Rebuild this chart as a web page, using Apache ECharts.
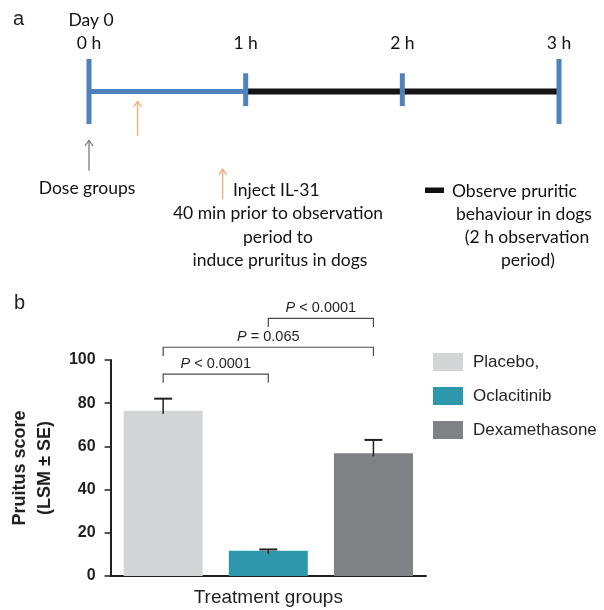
<!DOCTYPE html>
<html><head><meta charset="utf-8">
<script src="https://cdn.jsdelivr.net/npm/echarts@6/dist/echarts.min.js"></script>
<style>html,body{margin:0;padding:0;background:#fff}#c{width:604px;height:610px}</style>
</head><body><div id="c"></div>
<script>
// ---------- Panel a: timeline ----------
const hours = [0, 1, 2, 3];
const hourLabels = ['0 h', '1 h', '2 h', '3 h'];
const tickTop = [1, 0.56, 0.56, 1];
const tickBottom = [-1, -0.45, -0.45, -1];
const segStart = [0, 1];
const segEnd = [1, 3];
const segKind = ['dose', 'observe'];
const arrowHour = [0, 0.31, 0.853];
const arrowTail = [-2.44, -1.36, -3.31];
const arrowHead = [-1.49, -0.29, -2.38];
const arrowKind = ['dose', 'inject', 'inject'];

// ---------- Panel b: bar chart ----------
const categories = ['Placebo,', 'Oclacitinib', 'Dexamethasone'];
const scores = [76.5, 11.7, 56.8];
const se = [5.6, 0.6, 6.2];
const cmpFrom = [0, 0, 1];
const cmpTo = [1, 2, 2];
const cmpLevel = [93.5, 105.9, 119.3];
const cmpDrop = [4, 4, 4];
const cmpText = ['< 0.0001', '= 0.065', '< 0.0001'];

const barColors = ['#d4d5d7', '#2e97ab', '#808184'];
const dark = '#231f20';
const calib = 'Lato';
const arial = 'Liberation Sans';

const chart = echarts.init(document.getElementById('c'));

const option = {
  animation: false,
  backgroundColor: '#fff',
  grid: [
    {left: 89, width: 470, top: 59, height: 65},
    {left: 103, width: 323, top: 360, height: 216}
  ],
  xAxis: [
    {gridIndex: 0, type: 'value', min: 0, max: 3, interval: 1, position: 'top',
     axisLine: {show: false}, axisTick: {show: false}, splitLine: {show: false},
     axisLabel: {margin: 7, fontFamily: calib, fontSize: 17.5, color: '#111',
       formatter: v => hourLabels[hours.indexOf(v)] || ''}},
    {gridIndex: 1, type: 'category', data: categories,
     axisLine: {lineStyle: {color: dark, width: 2}}, axisTick: {show: false}, axisLabel: {show: false},
     name: 'Treatment groups', nameLocation: 'middle', nameGap: 12,
     nameTextStyle: {fontFamily: arial, fontSize: 19, color: dark}}
  ],
  yAxis: [
    {gridIndex: 0, type: 'value', min: -1, max: 1, show: false},
    {gridIndex: 1, type: 'value', min: 0, max: 100, interval: 20,
     axisLine: {show: true, lineStyle: {color: dark, width: 2}},
     axisTick: {show: true, length: 6, lineStyle: {color: dark, width: 1.5}},
     splitLine: {show: false},
     axisLabel: {margin: 15, fontFamily: arial, fontSize: 16, fontWeight: 'bold', color: dark},
     name: 'Pruitus score\n(LSM ± SE)', nameLocation: 'middle', nameRotate: 90, nameGap: 51,
     nameTextStyle: {fontFamily: arial, fontSize: 18, fontWeight: 'bold', color: dark, lineHeight: 25}}
  ],
  legend: {
    data: categories, orient: 'vertical', left: 433, top: 353, padding: 0,
    itemWidth: 30, itemHeight: 18, itemGap: 16, icon: 'rect', selectedMode: false,
    textStyle: {fontFamily: arial, fontSize: 17, color: dark, lineHeight: 18, padding: [0, 0, 0, 5]}
  },
  graphic: [
    {type: 'text', left: 13, top: 9, style: {text: 'a', fontFamily: arial, fontSize: 20, fill: '#222'}},
    {type: 'text', left: 14, top: 293, style: {text: 'b', fontFamily: arial, fontSize: 20, fill: '#222'}},
    {type: 'text', x: 91, y: 20, style: {text: 'Day 0', fontFamily: calib, fontSize: 17.5, fill: '#111', align: 'center', verticalAlign: 'middle'}},
    {type: 'text', x: 87, y: 188, style: {text: 'Dose groups', fontFamily: calib, fontSize: 17.5, fill: '#111', align: 'center', verticalAlign: 'middle'}},
    {type: 'text', x: 233, y: 190, style: {text: 'Inject IL-31', fontFamily: calib, fontSize: 17.5, fill: '#111', align: 'left', verticalAlign: 'middle'}},
    {type: 'text', x: 278, y: 213, style: {text: '40 min prior to observation', fontFamily: calib, fontSize: 17.5, fill: '#111', align: 'center', verticalAlign: 'middle'}},
    {type: 'text', x: 278, y: 237, style: {text: 'period to', fontFamily: calib, fontSize: 17.5, fill: '#111', align: 'center', verticalAlign: 'middle'}},
    {type: 'text', x: 280, y: 260, style: {text: 'induce pruritus in dogs', fontFamily: calib, fontSize: 17.5, fill: '#111', align: 'center', verticalAlign: 'middle'}},
    {type: 'rect', shape: {x: 425, y: 187.5, width: 19, height: 5.5}, style: {fill: '#111'}},
    {type: 'text', x: 452, y: 191, style: {text: 'Observe pruritic', fontFamily: calib, fontSize: 17.5, fill: '#111', align: 'left', verticalAlign: 'middle'}},
    {type: 'text', x: 524, y: 214, style: {text: 'behaviour in dogs', fontFamily: calib, fontSize: 17.5, fill: '#111', align: 'center', verticalAlign: 'middle'}},
    {type: 'text', x: 527, y: 237, style: {text: '(2 h observation', fontFamily: calib, fontSize: 17.5, fill: '#111', align: 'center', verticalAlign: 'middle'}},
    {type: 'text', x: 528, y: 260, style: {text: 'period)', fontFamily: calib, fontSize: 17.5, fill: '#111', align: 'center', verticalAlign: 'middle'}}
  ],
  series: [
    // timeline segments
    {type: 'custom', xAxisIndex: 0, yAxisIndex: 0, clip: false, z: 2,
     data: segStart.map((s, i) => [s, segEnd[i]]),
     renderItem: (params, api) => {
       const a = api.coord([api.value(0), 0]);
       const b = api.coord([api.value(1), 0]);
       const obs = segKind[params.dataIndex] === 'observe';
       return {type: 'line', shape: {x1: a[0], y1: a[1], x2: b[0], y2: b[1]},
               style: {stroke: obs ? '#141414' : '#4f81bd', lineWidth: obs ? 6 : 5}};
     }},
    // hour ticks
    {type: 'custom', xAxisIndex: 0, yAxisIndex: 0, clip: false, z: 3,
     data: hours.map((h, i) => [h, tickBottom[i], tickTop[i]]),
     renderItem: (params, api) => {
       const a = api.coord([api.value(0), api.value(1)]);
       const b = api.coord([api.value(0), api.value(2)]);
       return {type: 'line', shape: {x1: a[0], y1: a[1], x2: b[0], y2: b[1]},
               style: {stroke: '#4f81bd', lineWidth: 5}};
     }},
    // arrows
    {type: 'custom', xAxisIndex: 0, yAxisIndex: 0, clip: false, z: 3,
     data: arrowHour.map((h, i) => [h, arrowTail[i], arrowHead[i]]),
     renderItem: (params, api) => {
       const t = api.coord([api.value(0), api.value(1)]);
       const h = api.coord([api.value(0), api.value(2)]);
       const col = arrowKind[params.dataIndex] === 'dose' ? '#7a7a7a' : '#f0aa74';
       return {type: 'group', children: [
         {type: 'line', shape: {x1: t[0], y1: t[1], x2: h[0], y2: h[1]}, style: {stroke: col, lineWidth: 1.3}},
         {type: 'polyline', shape: {points: [[h[0] - 4, h[1] + 6], [h[0], h[1] + 0.5], [h[0] + 4, h[1] + 6]]},
          style: {stroke: col, lineWidth: 1.2, fill: null}}
       ]};
     }},
    // bars
    ...categories.map((name, i) => ({
      type: 'bar', name, xAxisIndex: 1, yAxisIndex: 1,
      data: scores.map((v, j) => (j === i ? v : '-')),
      barWidth: 79, barGap: '-100%', itemStyle: {color: barColors[i]}, z: 2
    })),
    // error bars
    {type: 'custom', xAxisIndex: 1, yAxisIndex: 1, clip: false, z: 4,
     data: scores.map((v, i) => [i, v, v + se[i]]),
     renderItem: (params, api) => {
       const base = api.coord([api.value(0), api.value(1)]);
       const top = api.coord([api.value(0), api.value(2)]);
       return {type: 'group', children: [
         {type: 'line', shape: {x1: base[0], y1: base[1] + 3, x2: top[0], y2: top[1]}, style: {stroke: dark, lineWidth: 1.5}},
         {type: 'line', shape: {x1: top[0] - 9, y1: top[1], x2: top[0] + 9, y2: top[1]}, style: {stroke: dark, lineWidth: 2}}
       ]};
     }},
    // significance brackets
    {type: 'custom', xAxisIndex: 1, yAxisIndex: 1, clip: false, z: 4,
     data: cmpFrom.map((f, i) => [f, cmpTo[i], cmpLevel[i], cmpLevel[i] - cmpDrop[i]]),
     renderItem: (params, api) => {
       const l = api.coord([api.value(0), api.value(2)]);
       const r = api.coord([api.value(1), api.value(2)]);
       const low = api.coord([api.value(0), api.value(3)])[1];
       return {type: 'group', children: [
         {type: 'polyline', shape: {points: [[l[0], low], [l[0], l[1]], [r[0], r[1]], [r[0], low]]},
          style: {stroke: '#4a4a4a', lineWidth: 1.2, fill: null}},
         {type: 'text', style: {text: '{i|P} ' + cmpText[params.dataIndex], x: (l[0] + r[0]) / 2, y: l[1] - 3,
           align: 'center', verticalAlign: 'bottom', fontFamily: arial, fontSize: 14.5, fill: dark,
           rich: {i: {fontStyle: 'italic', fontFamily: arial, fontSize: 14.5, fill: dark}}}}
       ]};
     }}
  ]
};
chart.setOption(option);
</script>
</body></html>
